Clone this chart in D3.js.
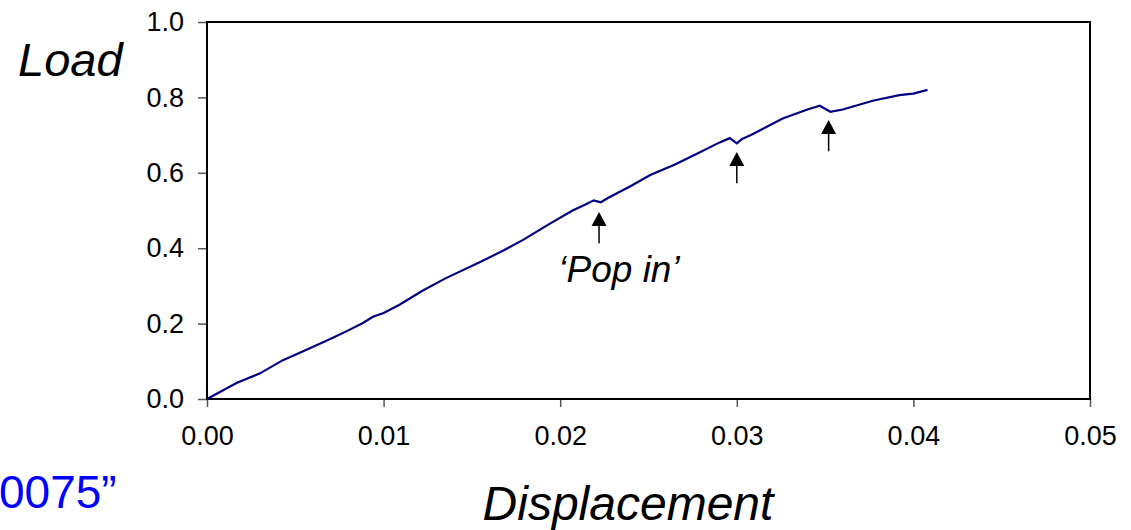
<!DOCTYPE html>
<html>
<head>
<meta charset="utf-8">
<title>Load vs Displacement</title>
<script src="https://d3js.org/d3.v7.min.js"></script>
<style>
    body { margin: 0; background: #fff; }
    svg { display: block; font-family: "Liberation Sans", Arial, sans-serif; }
    .tick text { font-size: 27px; fill: #000; }
    .tick line { stroke: #555; stroke-width: 1.5px; }
    .domain { display: none; }
</style>
</head>
<body>
<script>
    var dispX = [0, 0.0017, 0.0030, 0.0043, 0.0057, 0.0071, 0.0080, 0.0088, 0.0094, 0.0100,
        0.0109, 0.0122, 0.0135, 0.0155, 0.0167, 0.0179, 0.0193, 0.0207, 0.0214, 0.0219,
        0.0223, 0.0227, 0.0240, 0.0251, 0.0265, 0.0278, 0.0290, 0.0296, 0.0300, 0.0303,
        0.0308, 0.0326, 0.0340, 0.0347, 0.0353, 0.0360, 0.0377, 0.0392, 0.0400, 0.0408];
    var loadY = [0, 0.043, 0.068, 0.103, 0.132, 0.162, 0.182, 0.201, 0.218, 0.228,
        0.250, 0.287, 0.320, 0.364, 0.392, 0.422, 0.462, 0.500, 0.515, 0.527,
        0.522, 0.533, 0.565, 0.594, 0.622, 0.652, 0.680, 0.692, 0.678, 0.690,
        0.700, 0.744, 0.768, 0.778, 0.762, 0.768, 0.791, 0.806, 0.810, 0.820];

    var xTicks = [0, 0.01, 0.02, 0.03, 0.04, 0.05];
    var yTicks = [0, 0.2, 0.4, 0.6, 0.8, 1.0];

    // pop-in arrows: x position and tip height
    var arrowX = [0.0222, 0.0300, 0.0352];
    var arrowTip = [0.496, 0.655, 0.740];
    var arrowLen = 0.083;

    var width = 1131, height = 530;
    var margin = {left: 207, top: 22, right: 41, bottom: 131};
    var w = width - margin.left - margin.right,
        h = height - margin.top - margin.bottom;

    var svg = d3.select("body").append("svg")
        .attr("width", width)
        .attr("height", height);

    var x = d3.scaleLinear().domain([0, 0.05]).range([0, w]);
    var y = d3.scaleLinear().domain([0, 1]).range([h, 0]);

    var g = svg.append("g").attr("transform", "translate(" + margin.left + "," + margin.top + ")");

    g.append("g")
        .attr("transform", "translate(0," + h + ")")
        .call(d3.axisBottom(x).tickValues(xTicks).tickFormat(d3.format(".2f")).tickSize(8).tickPadding(19));

    g.append("g")
        .call(d3.axisLeft(y).tickValues(yTicks).tickFormat(d3.format(".1f")).tickSize(9).tickPadding(14));

    g.append("rect")
        .attr("width", w).attr("height", h)
        .attr("fill", "none").attr("stroke", "#000").attr("stroke-width", 2);

    var pts = dispX.map(function (d, i) { return [d, loadY[i]]; });
    g.append("path")
        .datum(pts)
        .attr("fill", "none")
        .attr("stroke", "#000080")
        .attr("stroke-width", 2.2)
        .attr("d", d3.line().x(function (d) { return x(d[0]); }).y(function (d) { return y(d[1]); }));

    // arrows
    arrowX.forEach(function (ax, i) {
        var px = x(ax), tip = y(arrowTip[i]), base = y(arrowTip[i] - arrowLen);
        g.append("line")
            .attr("x1", px).attr("x2", px).attr("y1", tip + 10).attr("y2", base)
            .attr("stroke", "#000").attr("stroke-width", 1.5);
        g.append("path")
            .attr("d", "M" + px + "," + tip + "L" + (px - 7.5) + "," + (tip + 14) + "L" + (px + 7.5) + "," + (tip + 14) + "Z")
            .attr("fill", "#000");
    });

    svg.append("text")
        .attr("x", 619).attr("y", 282)
        .attr("text-anchor", "middle")
        .style("font-size", "37px").style("font-style", "italic")
        .text("\u2018Pop in\u2019");

    svg.append("text")
        .attr("x", 18).attr("y", 76)
        .style("font-size", "47px").style("font-style", "italic")
        .text("Load");

    svg.append("text")
        .attr("x", 628).attr("y", 520)
        .attr("text-anchor", "middle")
        .style("font-size", "48px").style("font-style", "italic")
        .text("Displacement");

    svg.append("text")
        .attr("x", -1).attr("y", 508)
        .attr("fill", "#0000ff")
        .style("font-size", "46px")
        .text("0075\u201d");
</script>
</body>
</html>
